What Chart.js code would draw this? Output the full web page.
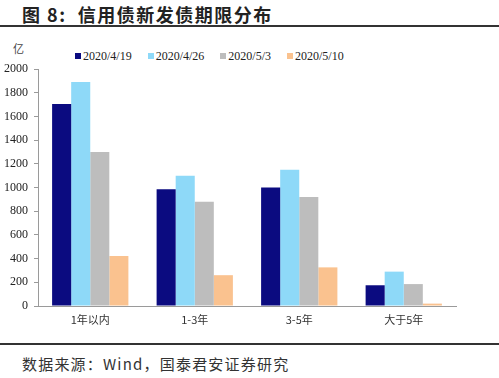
<!DOCTYPE html>
<html><head><meta charset="utf-8">
<script src="https://cdn.jsdelivr.net/npm/chart.js@4/dist/chart.umd.min.js"></script>
<style>
html,body{margin:0;padding:0;background:#fff;width:499px;height:378px;overflow:hidden;position:relative}
#title{position:absolute;left:22px;top:1px;font:bold 18px "Noto Sans CJK SC";letter-spacing:1.5px;color:#222;white-space:nowrap}
#rule1{position:absolute;left:0;top:25px;width:499px;height:2px;background:#333}
#rule2{position:absolute;left:0;top:343px;width:499px;height:2px;background:#333}
#src{position:absolute;left:22px;top:353px;font:15px "Noto Sans CJK SC";letter-spacing:1.2px;color:#333;white-space:nowrap}
#unit{position:absolute;left:13px;top:40px;font:11px "Noto Sans CJK SC";color:#444}
#legend{position:absolute;left:75px;top:49px;font:12px "Liberation Serif";color:#222;white-space:nowrap}
#legend span.item{display:inline-block;margin-right:16px}
#legend span.box{display:inline-block;width:6px;height:6px;margin-right:2px;vertical-align:1px}
#wrap{position:absolute;left:0;top:40px;width:499px;height:290px}
</style></head><body>
<div id="title">图 8:&nbsp; 信用债新发债期限分布</div>
<div id="rule1"></div>
<div id="unit">亿</div>
<div id="legend"></div>
<div id="wrap"><canvas id="c"></canvas></div>
<div id="rule2"></div>
<div id="src">数据来源：Wind，国泰君安证券研究</div>
<script>
const categories = ["1年以内", "1-3年", "3-5年", "大于5年"];
const seriesNames = ["2020/4/19", "2020/4/26", "2020/5/3", "2020/5/10"];
const s0419 = [1705, 985, 1000, 175];
const s0426 = [1890, 1100, 1150, 290];
const s0503 = [1300, 880, 920, 185];
const s0510 = [422, 260, 326, 20];
const yTicks = [0, 200, 400, 600, 800, 1000, 1200, 1400, 1600, 1800, 2000];
const colors = ["#0b0b80", "#8ed9f8", "#bdbdbd", "#fac28f"];

const seriesData = [s0419, s0426, s0503, s0510];
const lg = document.getElementById('legend');
seriesNames.forEach((n, i) => {
  const it = document.createElement('span'); it.className = 'item';
  const b = document.createElement('span'); b.className = 'box'; b.style.background = colors[i];
  it.appendChild(b); it.appendChild(document.createTextNode(n)); lg.appendChild(it);
});

new Chart(document.getElementById('c'), {
  type: 'bar',
  data: {
    labels: categories,
    datasets: seriesNames.map((n, i) => ({
      label: n, data: seriesData[i], backgroundColor: colors[i],
      borderWidth: 0, categoryPercentage: 0.73, barPercentage: 1.0
    }))
  },
  options: {
    responsive: true, maintainAspectRatio: false, animation: false,
    devicePixelRatio: 1,
    layout: { padding: { left: 0, right: 43, top: 29, bottom: 0 } },
    plugins: { legend: { display: false }, tooltip: { enabled: false } },
    scales: {
      x: {
        grid: { display: false, drawTicks: false },
        border: { color: '#9a9a9a', width: 1 },
        ticks: { font: { family: 'Noto Sans CJK SC', size: 11 }, color: '#333', padding: 7 },
        afterFit: s => { s.height = 24; }
      },
      y: {
        min: 0, max: 2000,
        afterBuildTicks: s => { s.ticks = yTicks.map(v => ({ value: v })); },
        grid: { drawOnChartArea: false, tickLength: 4, color: '#9a9a9a' },
        border: { color: '#9a9a9a', width: 1 },
        ticks: { font: { family: 'Liberation Serif', size: 12 }, color: '#222', padding: 6,
                 callback: v => String(v) },
        afterFit: s => { s.width = 38; }
      }
    }
  }
});
</script>
</body></html>
